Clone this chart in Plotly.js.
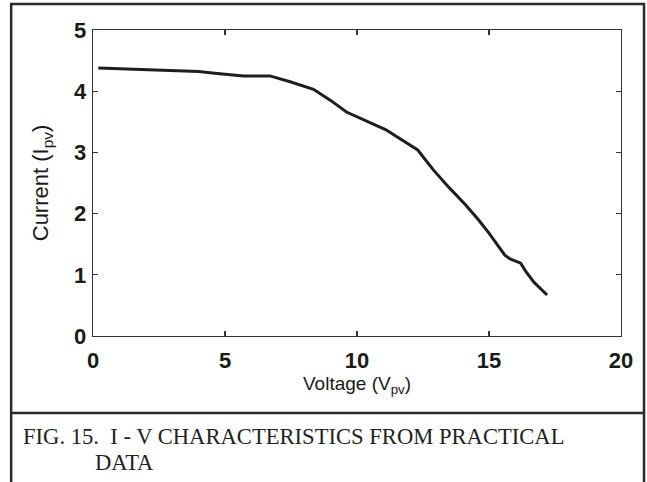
<!DOCTYPE html>
<html>
<head>
<meta charset="utf-8">
<script src="https://cdn.plot.ly/plotly-3.0.1.min.js"></script>
<style>html,body{margin:0;padding:0;background:#fff;}#chart{width:647px;height:482px;}</style>
</head>
<body>
<div id="chart"></div>
<script>
const voltage = [0.2, 1.3, 2.6, 4.0, 4.7, 5.3, 5.7, 6.7, 7.5, 8.35, 9.0, 9.6, 10.3, 11.1, 11.6, 12.3, 12.9, 13.5, 14.1, 14.6, 15.0, 15.3, 15.6, 15.8, 16.2, 16.4, 16.7, 17.2];
const current = [4.38, 4.36, 4.34, 4.32, 4.29, 4.27, 4.25, 4.25, 4.15, 4.03, 3.85, 3.66, 3.53, 3.37, 3.23, 3.04, 2.71, 2.42, 2.15, 1.9, 1.68, 1.5, 1.32, 1.26, 1.19, 1.05, 0.88, 0.67];
const xTicks = [0, 5, 10, 15, 20];
const yTicks = [0, 1, 2, 3, 4, 5];
const xTitle = 'Voltage (V<sub>pv</sub>)';
const yTitle = 'Current (I<sub>pv</sub>)';
const captionLine1 = 'FIG. 15.  I - V CHARACTERISTICS FROM PRACTICAL';
const captionLine2 = 'DATA';

const tickFont = {family: 'Liberation Sans, Arial, sans-serif', size: 22, color: '#1a1a1a', weight: 'bold'};
const xTitleFont = {family: 'Liberation Sans, Arial, sans-serif', size: 19, color: '#1a1a1a'};
const yTitleFont = {family: 'Liberation Sans, Arial, sans-serif', size: 22, color: '#1a1a1a'};
const capFont = {family: 'Liberation Serif, Times New Roman, serif', size: 22.6, color: '#222'};

const trace = {
  x: voltage, y: current, type: 'scatter', mode: 'lines',
  line: {color: '#1e1e1e', width: 3}, hoverinfo: 'skip'
};

const axisCommon = {
  showgrid: false, zeroline: false, showline: true, linecolor: '#333', linewidth: 1.3,
  mirror: 'ticks', ticks: 'inside', ticklen: 5, tickcolor: '#333', tickwidth: 1.3,
  tickfont: tickFont
};

const layout = {
  width: 647, height: 482,
  margin: {l: 93, r: 26, t: 30, b: 146},
  paper_bgcolor: '#fff', plot_bgcolor: '#fff',
  showlegend: false,
  xaxis: Object.assign({}, axisCommon, {
    range: [0, 20], tickvals: xTicks, ticktext: xTicks.map(String),
    ticklabelstandoff: 4,
    title: {text: xTitle, font: xTitleFont, standoff: 4}
  }),
  yaxis: Object.assign({}, axisCommon, {
    range: [0, 5], tickvals: yTicks, ticktext: yTicks.map(String),
    ticklabelstandoff: 1,
    title: {text: yTitle, font: yTitleFont, standoff: 19}
  }),
  shapes: [
    {type: 'rect', xref: 'paper', yref: 'paper', x0: -0.155, x1: 1.0436, y0: -0.56, y1: 1.085,
     line: {color: '#2a2a2a', width: 2.5}},
    {type: 'line', xref: 'paper', yref: 'paper', x0: -0.155, x1: 1.0436, y0: -0.2516, y1: -0.2516,
     line: {color: '#2a2a2a', width: 2.5}}
  ],
  annotations: [
    {xref: 'paper', yref: 'paper', x: -0.137, y: -0.330, xanchor: 'left', yanchor: 'middle',
     text: captionLine1, showarrow: false, font: capFont},
    {xref: 'paper', yref: 'paper', x: 0.0, y: -0.412, xanchor: 'left', yanchor: 'middle',
     text: captionLine2, showarrow: false, font: capFont}
  ]
};

Plotly.newPlot('chart', [trace], layout, {displayModeBar: false, staticPlot: true});
</script>
</body>
</html>
